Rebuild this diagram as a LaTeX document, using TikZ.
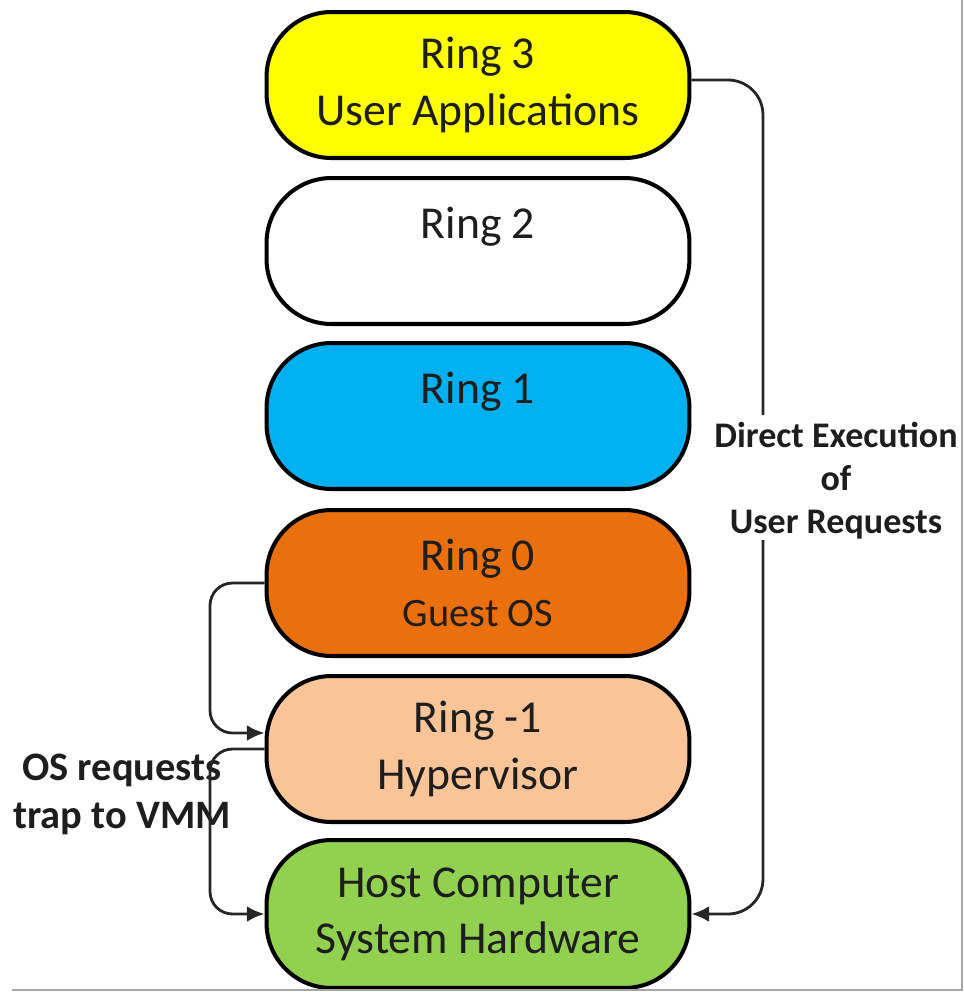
\documentclass[tikz,border=0pt]{standalone}
\usepackage{fontspec}
\setmainfont{Carlito}
\usetikzlibrary{arrows.meta}
\definecolor{amarelo}{RGB}{255,255,0}
\definecolor{azulceu}{RGB}{0,176,240}
\definecolor{laranja}{RGB}{234,112,13}
\definecolor{pessego}{RGB}{248,196,152}
\definecolor{verdefolha}{RGB}{146,208,80}
\definecolor{tinta}{RGB}{30,30,30}

\begin{document}
\begin{tikzpicture}[x=0.02cm, y=-0.02cm,
    anel/.style={draw=black, line width=2.3pt, rounded corners=1.3cm,
      minimum width=8.46cm, minimum height=2.92cm, inner sep=0pt,
      align=center, text=tinta, font=\fontsize{26}{32}\selectfont},
    fio/.style={draw=black!85, line width=1.6pt},
    seta/.style={fio, -{Latex[length=10pt,width=9pt]}},
    rotulo/.style={align=center, text=tinta, font=\bfseries\fontsize{20.5}{24.5}\selectfont}]
  \useasboundingbox (0,0) rectangle (964,992);

  % the rings, top to bottom
  \node[anel, fill=amarelo] (r3) at (478,85) {Ring 3\\User Applications};
  \node[anel, fill=white] (r2) at (478,251) {Ring 2\\\mbox{}};
  \node[anel, fill=azulceu] (r1) at (478,416) {Ring 1\\\mbox{}};
  \node[anel, fill=laranja] (r0) at (478,583) {Ring 0\\{\fontsize{23}{32}\selectfont Guest OS}};
  \node[anel, fill=pessego] (rm1) at (478,749) {Ring -1\\Hypervisor};
  \node[anel, fill=verdefolha, minimum height=2.96cm] (host) at (478,914) {Host Computer\\System Hardware};

  % labels beside the rings
  \node[rotulo] (direta) at (836,481) {Direct Execution\\of\\User Requests};
  \node[rotulo, font=\bfseries\fontsize{23}{27.3}\selectfont] (trap) at (122,794) {OS requests\\trap to VMM};

  % right: user requests go straight to the hardware
  \coordinate (dtopo) at (763,415);
  \coordinate (dbase) at (763,540);
  \draw[fio, rounded corners=0.7cm] ([yshift=0.1cm]r3.east) -| (dtopo);
  \draw[seta, rounded corners=0.7cm] (dbase) |- (host.east);

  % left: OS requests trap to the VMM
  \coordinate (trilho) at (210,660);
  \coordinate (trilhob) at (210,830);
  \draw[seta, rounded corners=0.45cm] (r0.west) -| (trilho) |- ([yshift=0.32cm]rm1.west);
  \draw[seta, rounded corners=0.45cm] (rm1.west) -| (trilhob) |- (host.west);

  % screenshot frame
  \draw[black!35, line width=0.8pt] (12,990) -- (962,990) -- (962,0);
\end{tikzpicture}
\end{document}
